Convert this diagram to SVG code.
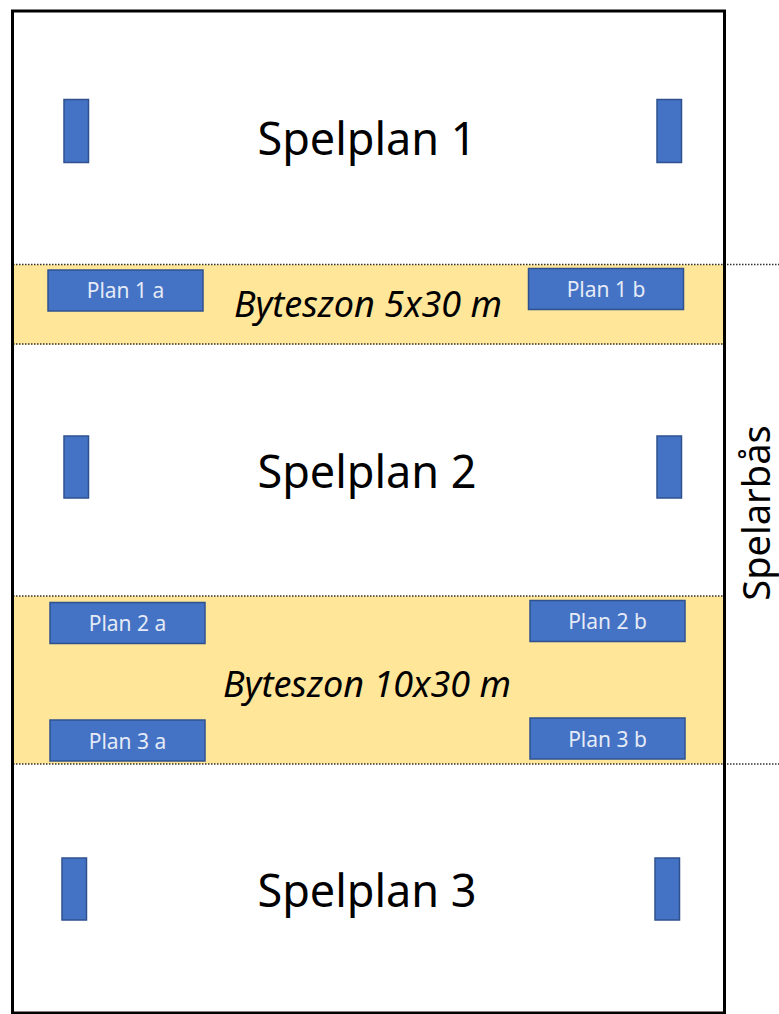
<svg xmlns="http://www.w3.org/2000/svg" width="779" height="1014" viewBox="0 0 779 1014">
<style>
.zone{fill:#FFE699;stroke:none}
.dot{stroke:#333;stroke-width:1.5;stroke-dasharray:1.5 1.5;fill:none}
.blue{fill:#4472C4;stroke:#2F528F;stroke-width:1.5}
.big{font-family:"Noto Sans","Open Sans",sans-serif;font-size:45px;fill:#000;text-anchor:middle}
.zt{font-family:"Noto Sans","Open Sans",sans-serif;font-style:italic;font-size:36px;fill:#000;text-anchor:middle}
.lbl{font-family:"Noto Sans","Open Sans",sans-serif;font-size:21px;fill:#E4EBF7;text-anchor:middle}
</style>
<rect x="0" y="0" width="779" height="1014" fill="#fff"/>
<g id="zones">
<rect class="zone" x="13" y="264.5" width="711" height="80"/>
<rect class="zone" x="13" y="596" width="711" height="168"/>
</g>
<g id="lines">
<line class="dot" x1="13" y1="264.5" x2="779" y2="264.5"/>
<line class="dot" x1="13" y1="344" x2="724" y2="344"/>
<line class="dot" x1="13" y1="596" x2="724" y2="596"/>
<line class="dot" x1="13" y1="764" x2="779" y2="764"/>
</g>
<rect id="field" x="12.5" y="11" width="712" height="1002" fill="none" stroke="#000" stroke-width="3"/>
<g id="spelplan1">
<rect class="blue" x="64" y="99.5" width="24.5" height="63"/>
<rect class="blue" x="657" y="99.5" width="24.5" height="63"/>
<text class="big" x="367" y="155">Spelplan 1</text>
</g>
<g id="spelplan2">
<rect class="blue" x="64" y="436" width="24.5" height="62"/>
<rect class="blue" x="657" y="436" width="24.5" height="62"/>
<text class="big" x="367" y="488">Spelplan 2</text>
</g>
<g id="spelplan3">
<rect class="blue" x="62" y="858" width="24.5" height="62"/>
<rect class="blue" x="655" y="858" width="24.5" height="62"/>
<text class="big" x="367" y="907">Spelplan 3</text>
</g>
<g id="byteszon1">
<text class="zt" x="368" y="317">Byteszon 5x30 m</text>
</g>
<g id="byteszon2">
<text class="zt" x="367" y="697">Byteszon 10x30 m</text>
</g>
<g id="plan1a"><rect class="blue" x="48" y="270" width="155" height="41"/><text class="lbl" x="125.5" y="298">Plan 1 a</text></g>
<g id="plan1b"><rect class="blue" x="528.5" y="268.5" width="155" height="41"/><text class="lbl" x="606" y="296.5">Plan 1 b</text></g>
<g id="plan2a"><rect class="blue" x="50" y="602.5" width="155" height="41"/><text class="lbl" x="127.5" y="631">Plan 2 a</text></g>
<g id="plan2b"><rect class="blue" x="530" y="600.5" width="155" height="41"/><text class="lbl" x="607.5" y="629">Plan 2 b</text></g>
<g id="plan3a"><rect class="blue" x="50" y="720" width="155" height="41"/><text class="lbl" x="127.5" y="749">Plan 3 a</text></g>
<g id="plan3b"><rect class="blue" x="530" y="718" width="155" height="41"/><text class="lbl" x="607.5" y="746.5">Plan 3 b</text></g>
<g id="spelarbas">
<text class="big" style="font-size:38px" transform="translate(770 513) rotate(-90)" x="0" y="0">Spelarbås</text>
</g>
</svg>
